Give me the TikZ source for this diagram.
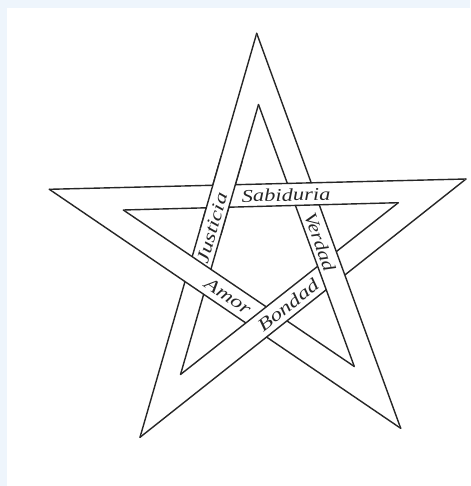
\documentclass[tikz,border=0pt]{standalone}
\usepackage{fontspec}
\setmainfont{Liberation Serif}
\usetikzlibrary{calc}

\begin{document}
\begin{tikzpicture}[x=1pt, y=-1pt]
    % Define colours
    \definecolor{borderColour}{HTML}{262626}
    \definecolor{frameColour}{HTML}{EEF5FC}

    % Define styles
    \tikzset{
        edge/.style={draw=borderColour, line width=1.4pt, line cap=round},
        word/.style={font=\itshape\fontsize{18}{18}\selectfont, text=borderColour, inner sep=0pt},
    }

    % Draw page
    \useasboundingbox (0,0) rectangle (470,486);
    \fill[frameColour] (0,0) rectangle (470,486);
    \fill[white] (7,8) rectangle (470,486);

    % Define outer tips
    \coordinate (oT) at (256.7,33.3);
    \coordinate (oL) at (49.3,189.3);
    \coordinate (oR) at (466,179);
    \coordinate (oBL) at (140,437.3);
    \coordinate (oBR) at (400.7,428.3);

    % Define inner tips
    \coordinate (iT) at (258.5,104.5);
    \coordinate (iL) at (123.3,210);
    \coordinate (iR) at (398.3,202.7);
    \coordinate (iBL) at (180.5,374.5);
    \coordinate (iBR) at (354.3,366.5);

    % Draw bands, each one over the one before
    \foreach \a/\b in {T/BL, L/BR, R/BL, T/BR, L/R} {
        \fill[white] (o\a) -- (o\b) -- (i\b) -- (i\a) -- cycle;
        \draw[edge] (o\a) -- (o\b) (i\a) -- (i\b);
    }

    % Put Justicia band back over Sabiduria band
    \coordinate (JS) at (intersection of oT--oBL and oL--oR);
    \begin{scope}
        \clip ($(JS)+(10,10)$) circle (40pt);
        \fill[white] (oT) -- (oBL) -- (iBL) -- (iT) -- cycle;
        \draw[edge] (oT) -- (oBL) (iT) -- (iBL);
    \end{scope}

    % Label bands
    \node[word, rotate=1.4, xscale=1.25] (sabiduria) at (286,195) {Sabiduria};
    \node[word, rotate=73.9, xscale=1.3] (justicia) at (212,228) {Justicia};
    \node[word, rotate=-70, xscale=1.2] (verdad) at (320,242) {Verdad};
    \node[word, rotate=-34.2, xscale=1.3] (amor) at (228,296) {Amor};
    \node[word, rotate=38.4, xscale=1.3] (bondad) at (288,305) {Bondad};
\end{tikzpicture}
\end{document}
